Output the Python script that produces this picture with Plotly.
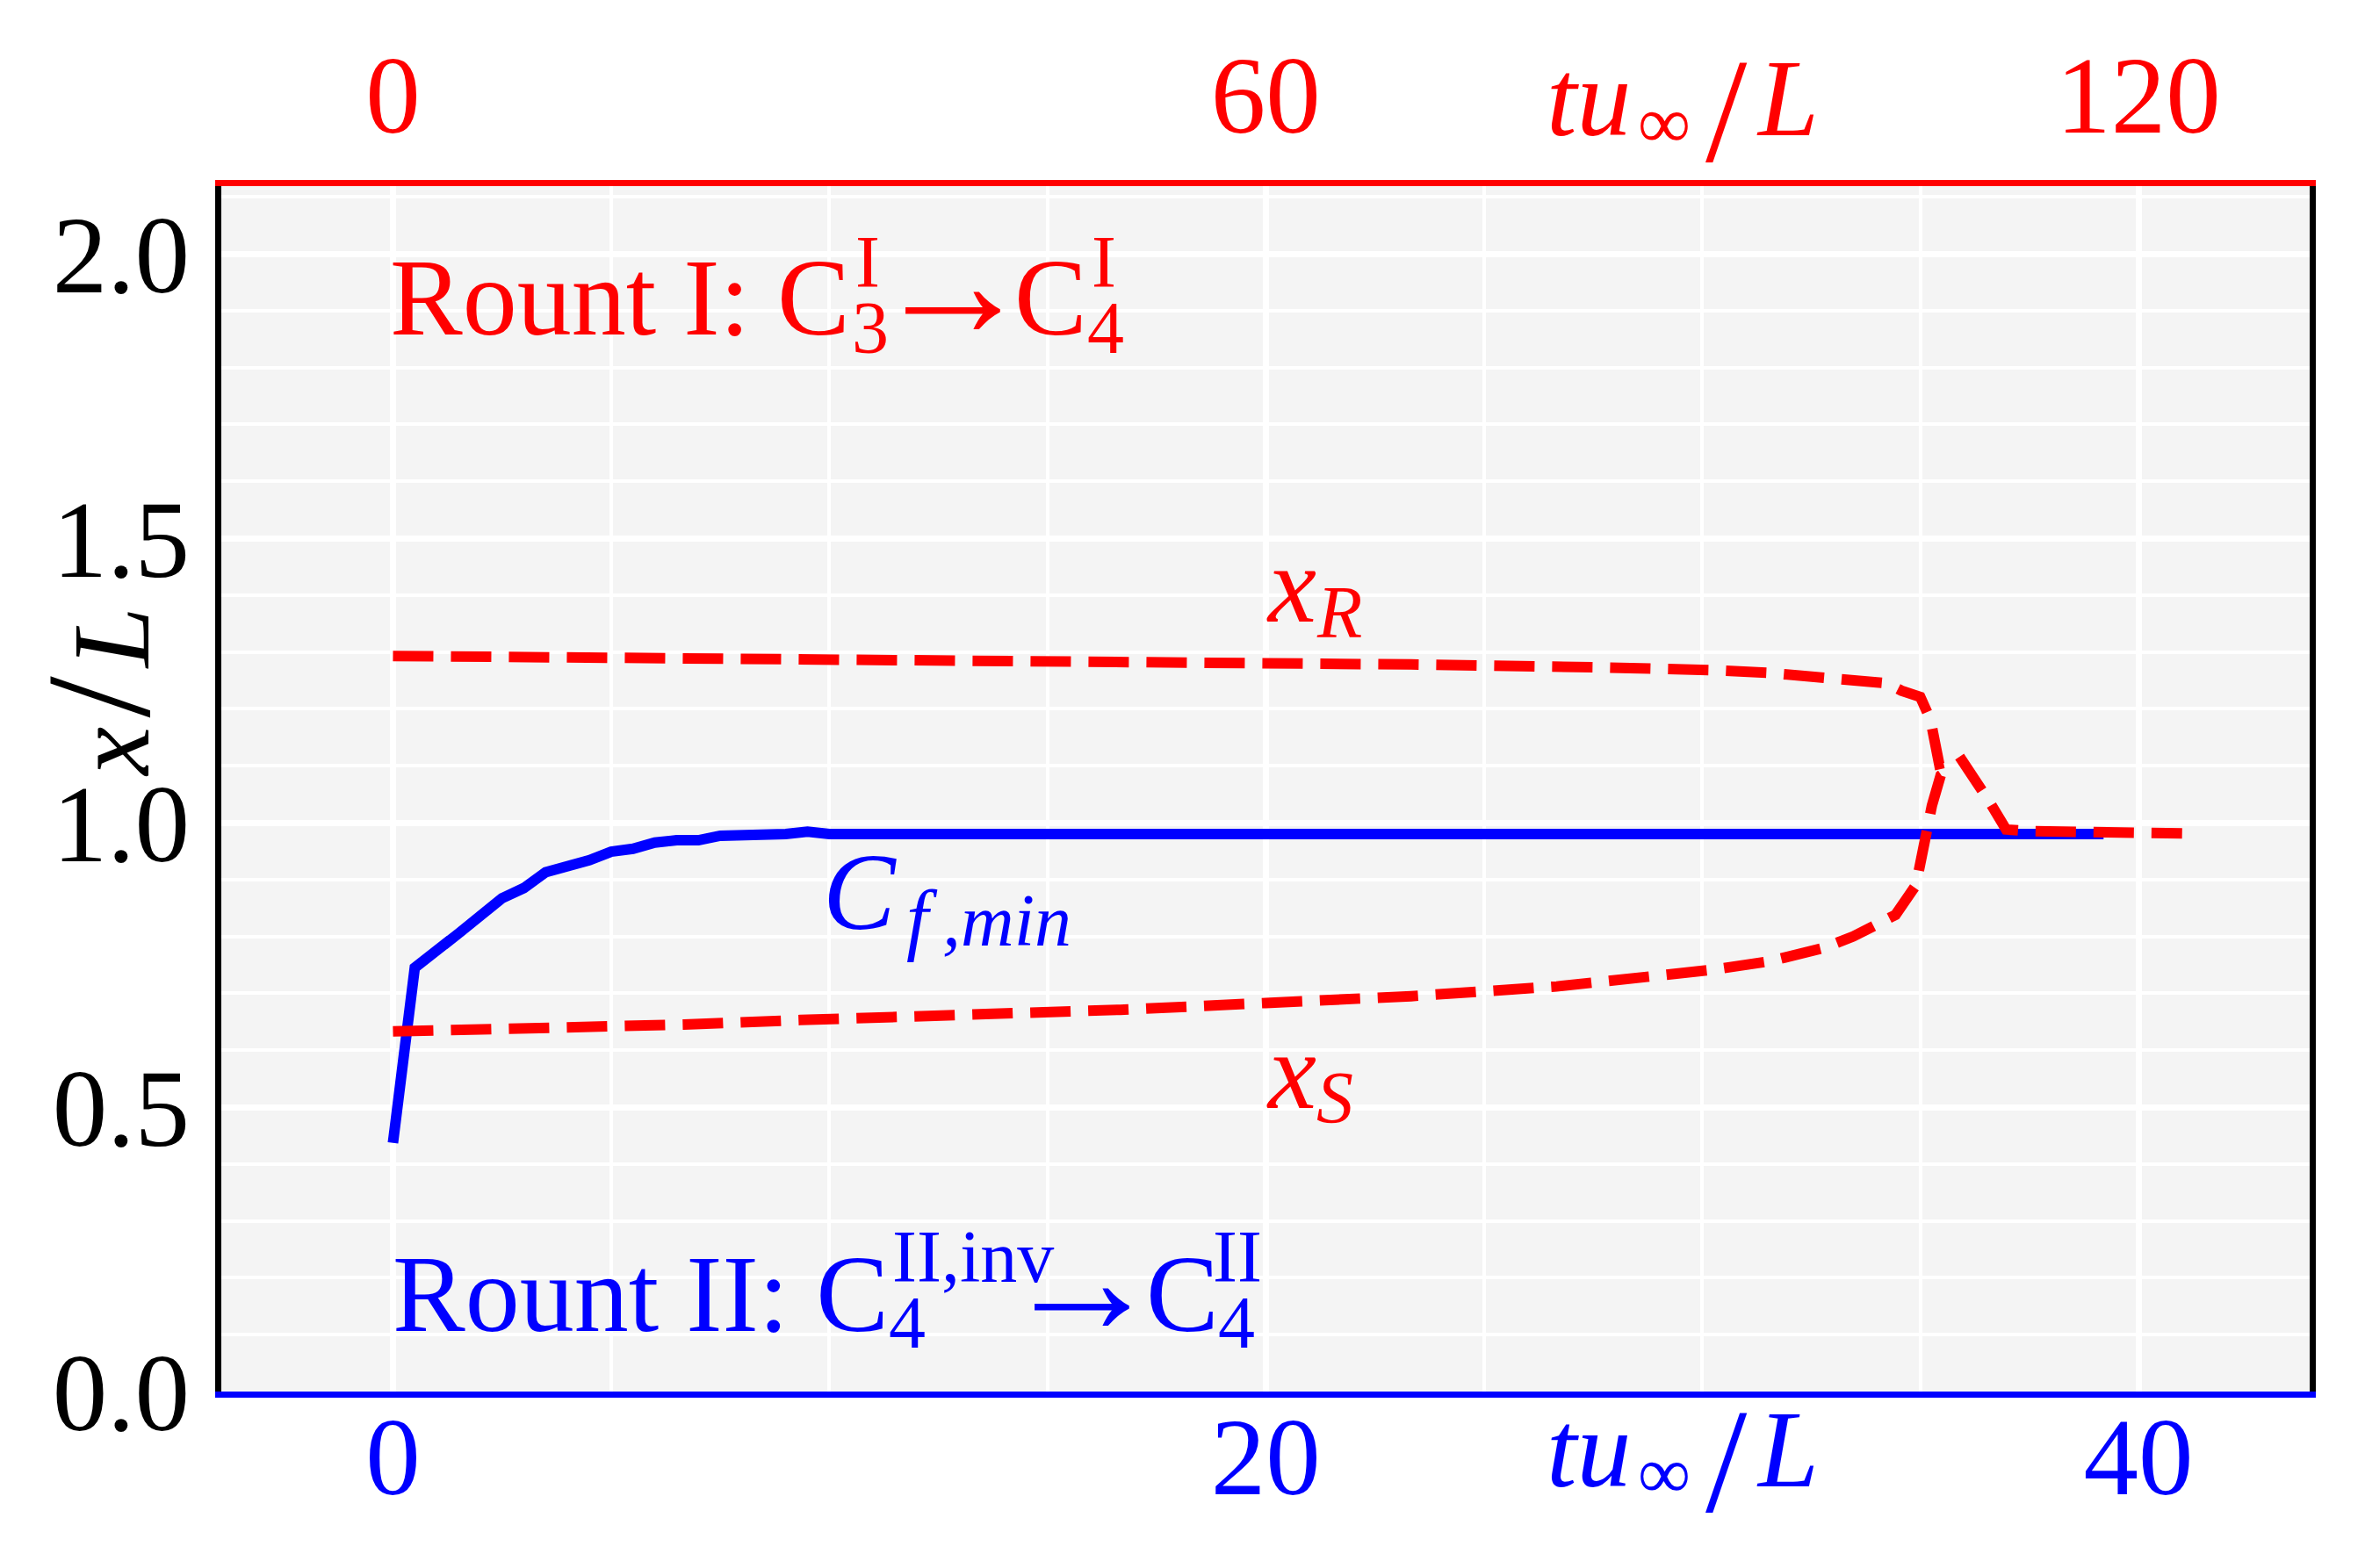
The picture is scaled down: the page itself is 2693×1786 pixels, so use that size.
import plotly.graph_objects as go

# ---------------- data ----------------
# Round II (bottom axis, t u_inf / L)
cf_t = [0, 0.5, 1.5, 2.5, 3.0, 3.5, 4.5, 5.0, 5.5, 6.0, 6.5, 7.0, 7.5, 8.0, 9.0, 9.5, 10.0, 39.2]
cf_x = [0.437, 0.745, 0.805, 0.867, 0.885, 0.913, 0.934, 0.949, 0.954, 0.965, 0.969, 0.969,
        0.977, 0.977, 0.980, 0.984, 0.980, 0.980]

# Round I (top axis, t u_inf / L)
xr_t = [0, 20, 40, 52, 60, 70, 83, 88, 90.7, 94.7, 98.7, 102.7, 103.7, 105.0, 105.7, 106.3,
        107.2, 107.7, 109.7, 110.9, 112.4, 116.5, 123.0]
xr_x = [1.293, 1.290, 1.286, 1.283, 1.281, 1.278, 1.273, 1.271, 1.268, 1.263, 1.255, 1.245,
        1.232, 1.221, 1.181, 1.103, 1.108, 1.116, 1.039, 0.988, 0.985, 0.983, 0.981]

xs_t = [0, 10, 20, 28, 40, 50, 60, 70, 80, 87.7, 90.6, 94.6, 98.4, 100.4, 102.2, 103.3,
        104.7, 105.0, 105.8, 106.4, 106.8]
xs_x = [0.633, 0.638, 0.645, 0.653, 0.662, 0.671, 0.683, 0.695, 0.712, 0.730, 0.741, 0.756,
        0.780, 0.800, 0.823, 0.838, 0.890, 0.930, 1.030, 1.083, 1.090]

bottom_ticks = [0, 20, 40]
top_ticks = [0, 60, 120]
y_ticks = [0.0, 0.5, 1.0, 1.5, 2.0]
y_ticktext = ["0.0", "0.5", "1.0", "1.5", "2.0"]

# ---------------- styling / layout ----------------
FONT = "Liberation Serif"
RED = "#ff0000"
BLUE = "#0000ff"
FIG_W, FIG_H = 2693, 1786
L, R, T, B = 252.0, 2630.5, 212.0, 1585.0   # plot-area pixel edges
W, H = R - L, B - T
X0_PX, PX_PER_X = 447.5, 49.7     # bottom axis: pixel of x=0, pixels per unit
PX_PER_Y = 648.0

x_range = [(L - X0_PX) / PX_PER_X, (R - X0_PX) / PX_PER_X]
x2_range = [3 * v for v in x_range]
y_range = [0.0, H / PX_PER_Y]

fig = go.Figure()
fig.add_trace(go.Scatter(x=cf_t, y=cf_x, mode="lines", xaxis="x", yaxis="y",
                         line=dict(color=BLUE, width=12), hoverinfo="skip"))
fig.add_trace(go.Scatter(x=xr_t, y=xr_x, mode="lines", xaxis="x2", yaxis="y",
                         line=dict(color=RED, width=12, dash="46px,20px"), hoverinfo="skip"))
fig.add_trace(go.Scatter(x=xs_t, y=xs_x, mode="lines", xaxis="x2", yaxis="y",
                         line=dict(color=RED, width=12, dash="46px,20px"), hoverinfo="skip"))

annotations = []


def pos(X, Y):
    return (X - L) / W, (B - Y) / H


def label(text, x_ink, y_base, size, color, lsb=0.0):
    xp, yp = pos(x_ink - 2 - lsb * size, y_base - 0.3375 * size)
    annotations.append(dict(text=text, xref="paper", yref="paper", x=xp, y=yp,
                            xanchor="left", yanchor="middle", showarrow=False,
                            font=dict(family=FONT, size=size, color=color)))


MAIN, SUB, ARROW = 124, 84, 182

# Round I text (red)
label("Rount I: C", 446, 381.7, MAIN, RED, 0.017)
label("I", 976, 326.7, SUB, RED, 0.018)
label("3", 973, 401.7, SUB, RED, 0.03)
label("\u2192", 1031, 384, ARROW, RED, 0.2)
label("C", 1159, 381.7, MAIN, RED, 0.028)
label("I", 1245, 326.7, SUB, RED, 0.018)
label("4", 1239, 401.7, SUB, RED, 0.01)

# Round II text (blue)
label("Rount II: C", 449, 1516.7, MAIN, BLUE, 0.017)
label("II,inv", 1018, 1460, SUB, BLUE, 0.018)
label("4", 1013, 1535, SUB, BLUE, 0.01)
label("\u2192", 1178, 1519, ARROW, BLUE, 0.2)
label("C", 1309, 1516.7, MAIN, BLUE, 0.028)
label("II", 1383, 1460, SUB, BLUE, 0.018)
label("4", 1388, 1535, SUB, BLUE, 0.01)

# curve labels
label("<i>x</i>", 1442, 708.3, MAIN, RED)
label("<i>R</i>", 1499, 725.7, SUB, RED)
label("<i>x</i>", 1442, 1262, MAIN, RED)
label("<i>S</i>", 1499, 1279, SUB, RED)
label("<i>C</i>", 943, 1058, MAIN, BLUE, 0.05)
label("<i>f</i>", 1019, 1076.7, SUB + 6, BLUE, -0.15)
label("<i>,min</i>", 1073, 1076.7, SUB, BLUE)

# axis labels t u_inf / L (bottom, blue and top, red)
for col, yb, yinf, ysl in [(BLUE, 1693, 1706, 1721), (RED, 154, 168, 183)]:
    label("<i>tu</i>", 1765, yb, MAIN, col, 0.03)
    label("\u221e", 1868, yinf, SUB, col, 0.03)
    label("/", 1942, ysl, 170, col, 0.0)
    label("<i>L</i>", 1997, yb, MAIN, col, -0.03)

# y-axis label (rotated)
annotations.append(dict(text="<i>x</i><span style='font-size:40px'> </span>"
                             "<span style='font-size:170px'>/</span>"
                             "<span style='font-size:40px'> </span><i>L</i>",
                        xref="paper", yref="paper",
                        x=(111.6 - L) / W, y=(B - 788) / H,
                        xanchor="center", yanchor="middle", textangle=-90, showarrow=False,
                        font=dict(family=FONT, size=MAIN, color="black")))

grid_major = dict(showgrid=True, gridcolor="white", gridwidth=6.5)

fig.update_layout(
    width=FIG_W, height=FIG_H,
    margin=dict(l=L, r=FIG_W - R, t=T, b=FIG_H - B, pad=0, autoexpand=False),
    paper_bgcolor="white", plot_bgcolor="#f4f4f4",
    showlegend=False, hovermode=False,
    annotations=annotations,
    xaxis=dict(range=x_range, tickmode="array", tickvals=bottom_ticks,
               tickfont=dict(family=FONT, size=125, color=BLUE),
               minor=dict(tickmode="linear", tick0=0, dtick=5, showgrid=True,
                          gridcolor="white", gridwidth=4.2),
               showline=True, linecolor=BLUE, linewidth=7, zeroline=False,
               ticks="", ticklabelstandoff=-40, **grid_major),
    xaxis2=dict(overlaying="x", side="top", anchor="y", range=x2_range,
                tickmode="array", tickvals=top_ticks,
                tickfont=dict(family=FONT, size=125, color=RED),
                showgrid=False, showline=True, linecolor=RED, linewidth=7,
                zeroline=False, ticks="", ticklabelstandoff=4),
    yaxis=dict(range=y_range, tickmode="array", tickvals=y_ticks, ticktext=y_ticktext,
               tickfont=dict(family=FONT, size=125, color="black"),
               minor=dict(tickmode="linear", tick0=0, dtick=0.1, showgrid=True,
                          gridcolor="white", gridwidth=4.2),
               showline=True, linecolor="black", linewidth=7, mirror=True,
               zeroline=False, ticks="", ticklabelstandoff=4, **grid_major),
)

fig.write_html("out.html", include_plotlyjs=True, full_html=True,
               config={"displayModeBar": False},
               post_script="document.body.style.margin='0';document.body.style.overflow='hidden';")
